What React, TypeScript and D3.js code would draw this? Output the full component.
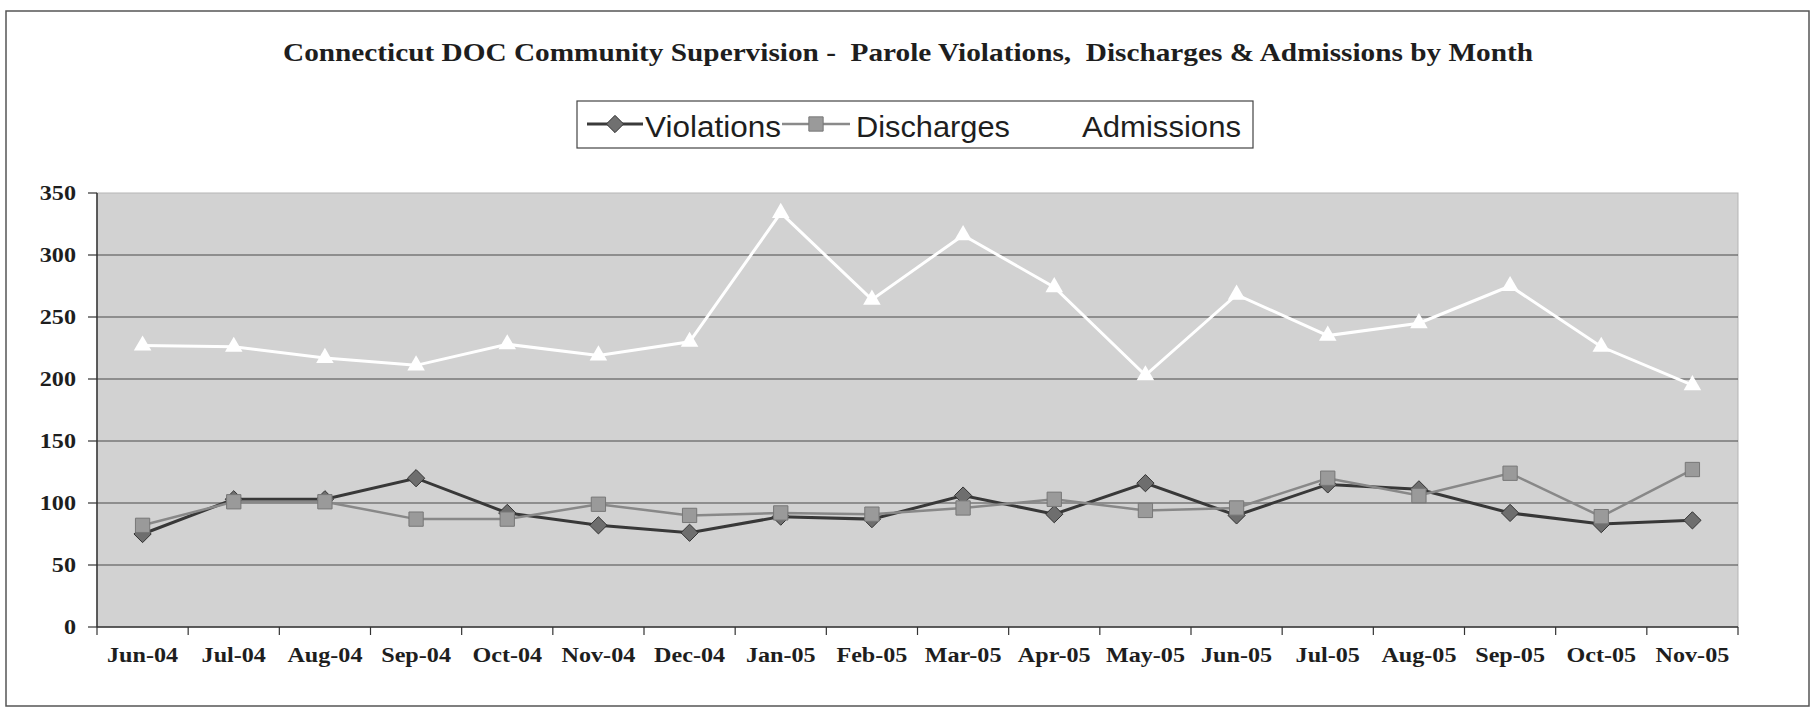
import React from "react";
import * as d3 from "d3";

const months = ["Jun-04","Jul-04","Aug-04","Sep-04","Oct-04","Nov-04","Dec-04","Jan-05","Feb-05","Mar-05","Apr-05","May-05","Jun-05","Jul-05","Aug-05","Sep-05","Oct-05","Nov-05"];
const violations = [75, 103, 103, 120, 92, 82, 76, 89, 87, 106, 91, 116, 90, 115, 111, 92, 83, 86];
const discharges = [82, 101, 101, 87, 87, 99, 90, 92, 91, 96, 103, 94, 96, 120, 106, 124, 89, 127];
const admissions = [227, 226, 217, 211, 228, 219, 230, 334, 264, 316, 274, 203, 268, 235, 245, 275, 226, 195];
const yTicks = [0, 50, 100, 150, 200, 250, 300, 350];
const title = "Connecticut DOC Community Supervision -  Parole Violations,  Discharges & Admissions by Month";
const seriesNames = ["Violations", "Discharges", "Admissions"];

const W = 1814, H = 710;
const L = 97, R = 1738, T = 193, B = 627;
const SX = 1.15;

export default function App() {
  const x = d3.scaleBand<string>().domain(months).range([L, R]);
  const y = d3.scaleLinear().domain([0, 350]).range([B, T]);
  const cx = (m: string) => (x(m) as number) + x.bandwidth() / 2;
  const line = (vals: number[]) =>
    d3.line<number>().x((_, i) => cx(months[i])).y((v) => y(v))(vals) as string;
  const diamond = d3.symbol().type(d3.symbolDiamond2).size(190)() as string;
  const square = d3.symbol().type(d3.symbolSquare2).size(260)() as string;
  const tri = d3.symbol().type(d3.symbolTriangle2).size(220)() as string;
  const serif = "'Liberation Serif', 'Times New Roman', serif";
  const sans = "'Liberation Sans', Arial, sans-serif";

  const boundaries = d3.range(months.length + 1).map((i) => L + i * x.step());

  return (
    <svg width={W} height={H} style={{ position: "absolute", left: 0, top: 0, background: "#fff" }}>
      <rect x={6} y={11} width={1803} height={695} fill="#fff" stroke="#555" strokeWidth={1.5} />
      <text x={908} y={61} textAnchor="middle" fontFamily={serif} fontWeight="bold" fontSize={26}
        textLength={1250} lengthAdjust="spacingAndGlyphs" fill="#1e1e1e" style={{ whiteSpace: "pre" }}>{title}</text>

      {/* legend */}
      <rect x={577} y={101} width={676} height={47} fill="#fff" stroke="#444" strokeWidth={1.2} />
      <line x1={587} x2={643} y1={124} y2={124} stroke="#3a3a3a" strokeWidth={3} />
      <path d={diamond} transform="translate(615,124)" fill="#707070" stroke="#333" strokeWidth={1} />
      <text x={645} y={137} fontFamily={sans} fontSize={29} textLength={136} lengthAdjust="spacingAndGlyphs" fill="#1e1e1e">{seriesNames[0]}</text>
      <line x1={782} x2={850} y1={124} y2={124} stroke="#8a8a8a" strokeWidth={2.5} />
      <path d={square} transform="translate(816,124)" fill="#9a9a9a" stroke="#777" strokeWidth={1} />
      <text x={856} y={137} fontFamily={sans} fontSize={29} textLength={154} lengthAdjust="spacingAndGlyphs" fill="#1e1e1e">{seriesNames[1]}</text>
      <line x1={1010} x2={1078} y1={124} y2={124} stroke="#fff" strokeWidth={3} />
      <path d={tri} transform="translate(1044,124)" fill="#fff" />
      <text x={1082} y={137} fontFamily={sans} fontSize={29} textLength={159} lengthAdjust="spacingAndGlyphs" fill="#1e1e1e">{seriesNames[2]}</text>

      {/* plot area */}
      <rect x={L} y={T} width={R - L} height={B - T} fill="#d2d2d2" stroke="#b5b5b5" strokeWidth={1} />
      {yTicks.filter((t) => t > 0 && t < 350).map((t) => (
        <line key={t} x1={L} x2={R} y1={y(t)} y2={y(t)} stroke="#4a4a4a" strokeWidth={1} />
      ))}
      {/* axes */}
      <line x1={L} x2={L} y1={T} y2={B} stroke="#333" strokeWidth={1.5} />
      <line x1={L} x2={R} y1={B} y2={B} stroke="#333" strokeWidth={1.5} />
      {yTicks.map((t) => (
        <g key={t}>
          <line x1={L - 9} x2={L} y1={y(t)} y2={y(t)} stroke="#333" strokeWidth={1.2} />
          <text transform={`translate(76,${y(t) + 7}) scale(${SX},1)`} textAnchor="end" fontFamily={serif}
            fontWeight="bold" fontSize={21} fill="#1e1e1e">{t}</text>
        </g>
      ))}
      {boundaries.map((b, i) => (
        <line key={i} x1={b} x2={b} y1={B} y2={B + 8} stroke="#333" strokeWidth={1.2} />
      ))}
      {months.map((m) => (
        <text key={m} transform={`translate(${cx(m)},662) scale(${SX},1)`} textAnchor="middle" fontFamily={serif}
          fontWeight="bold" fontSize={21} fill="#1e1e1e">{m}</text>
      ))}

      {/* series */}
      <path d={line(violations)} fill="none" stroke="#383838" strokeWidth={3} />
      {violations.map((v, i) => (
        <path key={"v" + i} d={diamond} transform={`translate(${cx(months[i])},${y(v)})`} fill="#6e6e6e" stroke="#333" strokeWidth={1} />
      ))}
      <path d={line(discharges)} fill="none" stroke="#888" strokeWidth={2.5} />
      {discharges.map((v, i) => (
        <path key={"d" + i} d={square} transform={`translate(${cx(months[i])},${y(v)})`} fill="#9a9a9a" stroke="#777" strokeWidth={1} />
      ))}
      <path d={line(admissions)} fill="none" stroke="#fff" strokeWidth={3} />
      {admissions.map((v, i) => (
        <path key={"a" + i} d={tri} transform={`translate(${cx(months[i])},${y(v)})`} fill="#fff" />
      ))}
    </svg>
  );
}
